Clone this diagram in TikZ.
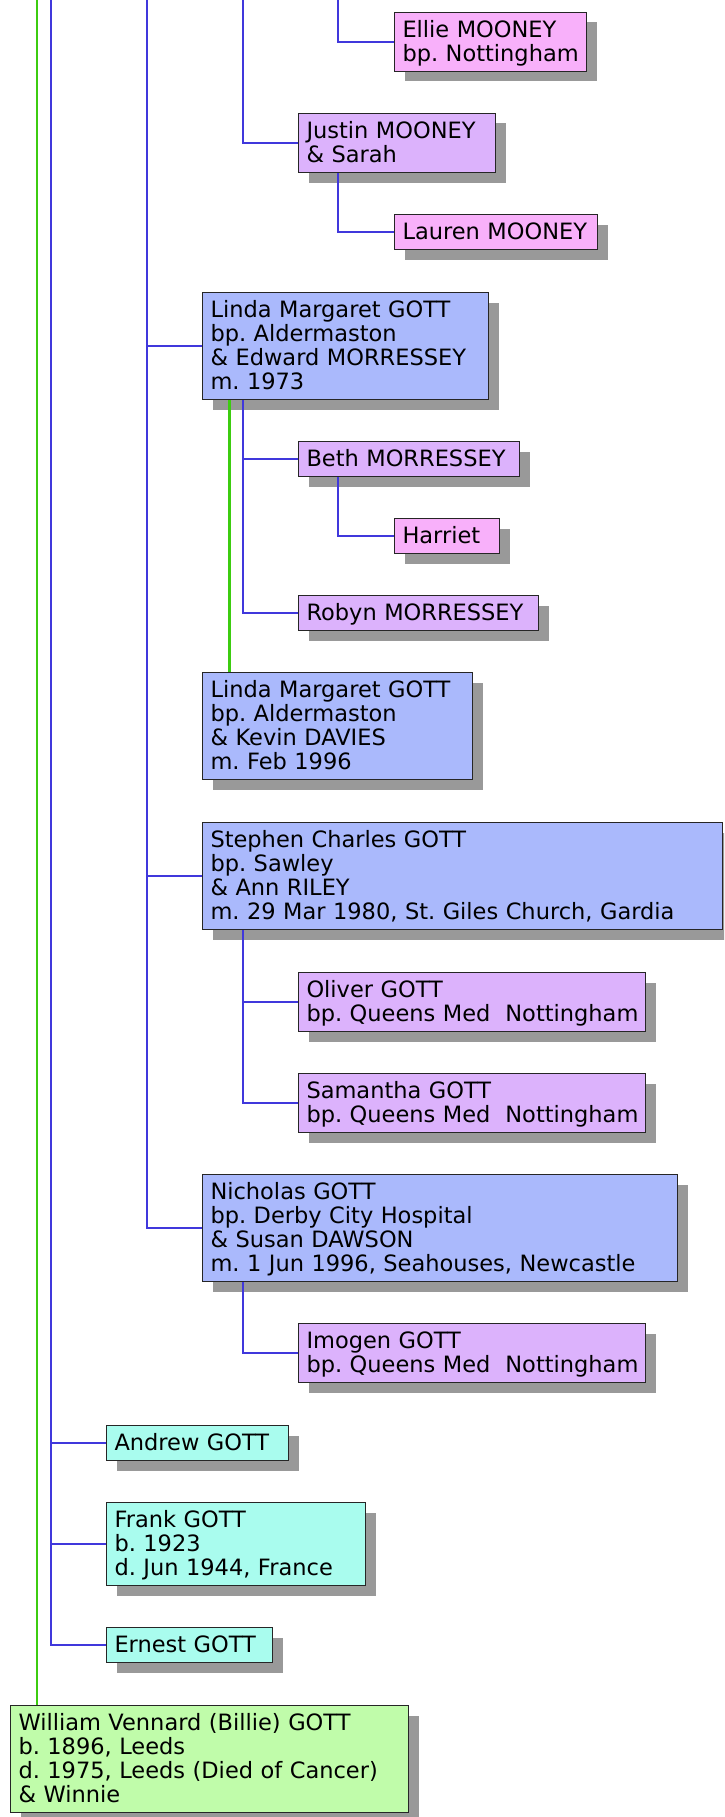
\documentclass[tikz,border=0pt]{standalone}
\usepackage{fontspec}
\setmainfont{DejaVu Sans}
\usetikzlibrary{shadows,calc}
\definecolor{cpink}{HTML}{F8B0FA}
\definecolor{clav}{HTML}{DCB2FC}
\definecolor{cblu}{HTML}{AAB9FC}
\definecolor{ccya}{HTML}{A9FCEE}
\definecolor{cgrn}{HTML}{C0FCAA}
\definecolor{clineb}{HTML}{4038DC}
\definecolor{clineg}{HTML}{3CCC10}
\newcommand{\persontext}[1]{\noindent\raisebox{-2.5pt}[\height][\depth]{\begin{tabular}{@{}l@{}}#1\end{tabular}}}
\frenchspacing
\begin{document}
\begin{tikzpicture}[x=1pt,y=-1pt,
  person/.style={anchor=north west, draw=black!85, line width=1pt, inner xsep=8pt, inner ysep=0pt,
    align=left, font=\fontsize{22.5}{23.5}\selectfont,
    general shadow={fill=black!40, draw=none, shadow xshift=10pt, shadow yshift=-10pt}},
  pinkbox/.style={person, fill=cpink},
  lavbox/.style={person, fill=clav},
  blubox/.style={person, fill=cblu},
  cyabox/.style={person, fill=ccya},
  grnbox/.style={person, fill=cgrn},
  bline/.style={draw=clineb, line width=2.3pt},
  gline/.style={draw=clineg, line width=2.3pt}]
\useasboundingbox (0,0) rectangle (724,1817);
\clip (0,0) rectangle (724,1817);
% boxes
\node[pinkbox, text width=176pt, minimum height=59pt] (ellie) at (394,12) {\persontext{Ellie MOONEY\\bp. Nottingham}};
\node[lavbox, text width=181pt, minimum height=59pt] (justin) at (298,113) {\persontext{Justin MOONEY\\\& Sarah}};
\node[pinkbox, text width=187pt, minimum height=35pt] (lauren) at (394,214) {\persontext{Lauren MOONEY}};
\node[blubox, text width=270pt, minimum height=107pt] (linda1) at (202,292) {\persontext{Linda Margaret GOTT\\bp. Aldermaston\\\& Edward MORRESSEY\\m. 1973}};
\node[lavbox, text width=205pt, minimum height=35pt] (beth) at (298,441) {\persontext{Beth MORRESSEY}};
\node[pinkbox, text width=89pt, minimum height=35pt] (harriet) at (394,518) {\persontext{Harriet}};
\node[lavbox, text width=224pt, minimum height=35pt] (robyn) at (298,595) {\persontext{Robyn MORRESSEY}};
\node[blubox, text width=254pt, minimum height=107pt] (linda2) at (202,672) {\persontext{Linda Margaret GOTT\\bp. Aldermaston\\\& Kevin DAVIES\\m. Feb 1996}};
\node[blubox, text width=504pt, minimum height=107pt] (stephen) at (202,822) {\persontext{Stephen Charles GOTT\\bp. Sawley\\\& Ann RILEY\\m. 29 Mar 1980, St. Giles Church, Gardia}};
\node[lavbox, text width=331pt, minimum height=59pt] (oliver) at (298,972) {\persontext{Oliver GOTT\\bp. Queens Med~~Nottingham}};
\node[lavbox, text width=331pt, minimum height=59pt] (samantha) at (298,1073) {\persontext{Samantha GOTT\\bp. Queens Med~~Nottingham}};
\node[blubox, text width=459pt, minimum height=107pt] (nicholas) at (202,1174) {\persontext{Nicholas GOTT\\bp. Derby City Hospital\\\& Susan DAWSON\\m. 1 Jun 1996, Seahouses, Newcastle}};
\node[lavbox, text width=331pt, minimum height=59pt] (imogen) at (298,1323) {\persontext{Imogen GOTT\\bp. Queens Med~~Nottingham}};
\node[cyabox, text width=166pt, minimum height=35pt] (andrew) at (106,1425) {\persontext{Andrew GOTT}};
\node[cyabox, text width=243pt, minimum height=83pt] (frank) at (106,1502) {\persontext{Frank GOTT\\b. 1923\\d. Jun 1944, France}};
\node[cyabox, text width=150pt, minimum height=35pt] (ernest) at (106,1627) {\persontext{Ernest GOTT}};
\node[grnbox, text width=382pt, minimum height=107pt] (william) at (10,1705) {\persontext{William Vennard (Billie) GOTT\\b. 1896, Leeds\\d. 1975, Leeds (Died of Cancer)\\\& Winnie}};
% top ends of trunks
\coordinate (ta) at (37,0);
\coordinate (tb) at (51,0);
\coordinate (tc) at (147,0);
\coordinate (td) at (243,0);
\coordinate (te) at (338,0);
\coordinate (jc) at ($(justin.south west)+(40,0)$);
\coordinate (l1c) at ($(linda1.south west)+(41,0)$);
\coordinate (l1g) at ($(linda1.south west)+(27.5,0)$);
\coordinate (bc) at ($(beth.south west)+(40,0)$);
\coordinate (sc) at ($(stephen.south west)+(41,0)$);
\coordinate (nc) at ($(nicholas.south west)+(41,0)$);
% connectors
\draw[gline] (ta) -- (ta |- william.north);
\draw[bline] (tb) |- (ernest.west);
\draw[bline] (tb |- andrew.west) -- (andrew.west);
\draw[bline] (tb |- frank.west) -- (frank.west);
\draw[bline] (tc) |- (nicholas.west);
\draw[bline] (tc |- linda1.west) -- (linda1.west);
\draw[bline] (tc |- stephen.west) -- (stephen.west);
\draw[bline] (td) |- (justin.west);
\draw[bline] (te) |- (ellie.west);
\draw[bline] (jc) |- (lauren.west);
\draw[bline] (l1c) |- (robyn.west);
\draw[bline] (l1c |- beth.west) -- (beth.west);
\draw[gline] (l1g) -- (l1g |- linda2.north);
\draw[bline] (bc) |- (harriet.west);
\draw[bline] (sc) |- (samantha.west);
\draw[bline] (sc |- oliver.west) -- (oliver.west);
\draw[bline] (nc) |- (imogen.west);
\end{tikzpicture}
\end{document}
